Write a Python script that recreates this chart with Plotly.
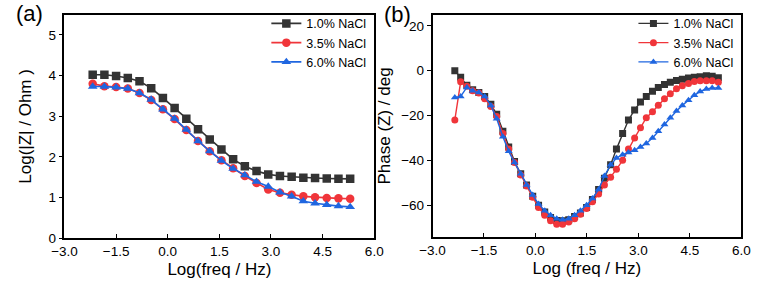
import plotly.graph_objects as go

# ---------------- data: panel (a) |Z| ----------------
freq_a = [-2.18, -1.84, -1.50, -1.16, -0.82, -0.48, -0.14, 0.20, 0.54, 0.88, 1.22, 1.56,
          1.90, 2.24, 2.58, 2.92, 3.26, 3.60, 3.94, 4.28, 4.62, 4.96, 5.30]
z_10 = [4.02, 4.02, 3.99, 3.94, 3.86, 3.69, 3.45, 3.20, 2.94, 2.68, 2.43, 2.18,
        1.94, 1.77, 1.65, 1.57, 1.53, 1.51, 1.49, 1.48, 1.47, 1.46, 1.46]
z_35 = [3.80, 3.74, 3.72, 3.68, 3.57, 3.40, 3.17, 2.93, 2.66, 2.39, 2.14, 1.92,
        1.72, 1.53, 1.36, 1.20, 1.12, 1.07, 1.03, 1.01, 0.99, 0.98, 0.97]
z_60 = [3.73, 3.73, 3.71, 3.68, 3.57, 3.41, 3.17, 2.94, 2.67, 2.39, 2.14, 1.91,
        1.71, 1.55, 1.39, 1.27, 1.13, 1.03, 0.91, 0.86, 0.82, 0.79, 0.77]

# ---------------- data: panel (b) phase ----------------
freq_b = [-2.35, -2.18, -2.00, -1.83, -1.65, -1.48, -1.30, -1.13, -0.95, -0.78, -0.61, -0.43,
          -0.26, -0.08, 0.09, 0.27, 0.44, 0.62, 0.79, 0.97, 1.14, 1.31, 1.49, 1.66, 1.84,
          2.01, 2.19, 2.36, 2.54, 2.71, 2.89, 3.06, 3.23, 3.41, 3.58, 3.76, 3.93, 4.11,
          4.28, 4.46, 4.63, 4.80, 4.98, 5.15, 5.33]
ph_10 = [0, -3, -6.5, -8.5, -9.8, -11.5, -15, -19.5, -27, -34, -40.5, -46, -51, -56, -60,
         -63, -65.5, -66.8, -67, -66.5, -65, -63.5, -61, -57.5, -53, -48, -42, -35, -28,
         -22, -17.5, -14, -11.5, -9.2, -7.5, -6.2, -5.2, -4.4, -3.8, -3.3, -3.0, -2.7,
         -2.3, -2.5, -3.2]
ph_35 = [-22, -5, -7, -9, -10, -12.5, -16, -20.5, -28, -35, -41, -46.5, -51.5, -56.5, -61,
         -64.5, -67, -68.5, -68.5, -67.5, -66, -64, -61.5, -58.5, -55, -51, -47.5, -44,
         -40, -35, -30, -25.5, -21, -18.3, -15.4, -12.5, -10.3, -8.1, -6.7, -5.7, -4.9,
         -4.5, -4.5, -4.5, -5.2]
ph_60 = [-12, -11.5, -7.5, -9, -9.8, -11.5, -15.5, -21.5, -29.5, -36, -41, -46, -51, -55.5,
         -59.5, -62.5, -64.5, -66, -66.5, -66, -64.5, -62.5, -60, -57, -53, -47, -42, -39,
         -37.5, -36.5, -35.5, -34, -32.5, -30, -27, -24, -21, -18, -15.5, -13.2, -11,
         -9.3, -8.2, -7.7, -7.7]

names = ["1.0% NaCl", "3.5% NaCl", "6.0% NaCl"]
colors = ["#333333", "#f0353a", "#1f66e0"]
symbols = ["square", "circle", "triangle-up"]

FONT = "Liberation Sans, Arial, sans-serif"

fig = go.Figure()

for ys, nm, c, s in zip([z_10, z_35, z_60], names, colors, symbols):
    fig.add_trace(go.Scatter(x=freq_a, y=ys, name=nm, mode="lines+markers",
                             line=dict(color=c, width=1.6),
                             marker=dict(symbol=s, size=8.5, color=c),
                             xaxis="x", yaxis="y", legend="legend"))

for ys, nm, c, s in zip([ph_10, ph_35, ph_60], names, colors, symbols):
    fig.add_trace(go.Scatter(x=freq_b, y=ys, name=nm, mode="lines+markers",
                             line=dict(color=c, width=1.4),
                             marker=dict(symbol=s, size=7, color=c),
                             xaxis="x2", yaxis="y2", legend="legend2"))

W, H = 762, 289
def px_x(p):
    return p / W
def px_y(p):
    return 1 - p / H

axis_common = dict(showline=True, linecolor="black", linewidth=1.5, mirror=True,
                   showgrid=False, zeroline=False,
                   tickfont=dict(family=FONT, size=13.5, color="black"),
                   tickcolor="black", ticklen=4, tickwidth=1.3)

xticks = [-3.0, -1.5, 0.0, 1.5, 3.0, 4.5, 6.0]

legend_common = dict(yanchor="top", xanchor="right", bgcolor="rgba(0,0,0,0)",
                     font=dict(family=FONT, size=12.5), tracegroupgap=0, itemwidth=30)

fig.update_layout(
    width=W, height=H,
    margin=dict(l=0, r=0, t=0, b=0),
    paper_bgcolor="white", plot_bgcolor="white",
    font=dict(family=FONT, color="black"),
    xaxis=dict(domain=[px_x(53), px_x(372)], range=[-3, 6], tickvals=xticks,
               tickformat=".1f", ticks="inside", anchor="y",
               title=dict(text="Log(freq / Hz)", font=dict(size=17, family=FONT), standoff=5),
               **axis_common),
    yaxis=dict(domain=[px_y(245), px_y(15)], range=[0, 5.5], tickvals=[0, 1, 2, 3, 4, 5],
               ticks="outside", anchor="x",
               title=dict(text="Log(|Z| / Ohm )", font=dict(size=17, family=FONT), standoff=13),
               **axis_common),
    xaxis2=dict(domain=[px_x(432), px_x(750)], range=[-3, 6], tickvals=xticks,
                tickformat=".1f", ticks="inside", anchor="y2",
                title=dict(text="Log (freq / Hz)", font=dict(size=17, family=FONT), standoff=5),
                **axis_common),
    yaxis2=dict(domain=[px_y(244), px_y(15)], range=[-74.3, 25], tickvals=[-60, -40, -20, 0, 20],
                ticks="outside", anchor="x2",
                title=dict(text="Phase (Z) / deg", font=dict(size=17, family=FONT), standoff=6),
                **axis_common),
    legend=dict(x=px_x(369), y=px_y(9), **legend_common),
    legend2=dict(x=px_x(747), y=px_y(9), **legend_common),
    showlegend=True,
    annotations=[
        dict(text="(a)", x=px_x(1), y=px_y(14), xref="paper", yref="paper",
             xanchor="left", yanchor="middle", showarrow=False,
             font=dict(family=FONT, size=22, color="black")),
        dict(text="(b)", x=px_x(380), y=px_y(15), xref="paper", yref="paper",
             xanchor="left", yanchor="middle", showarrow=False,
             font=dict(family=FONT, size=22, color="black")),
    ],
)

fig.write_html("out.html")
